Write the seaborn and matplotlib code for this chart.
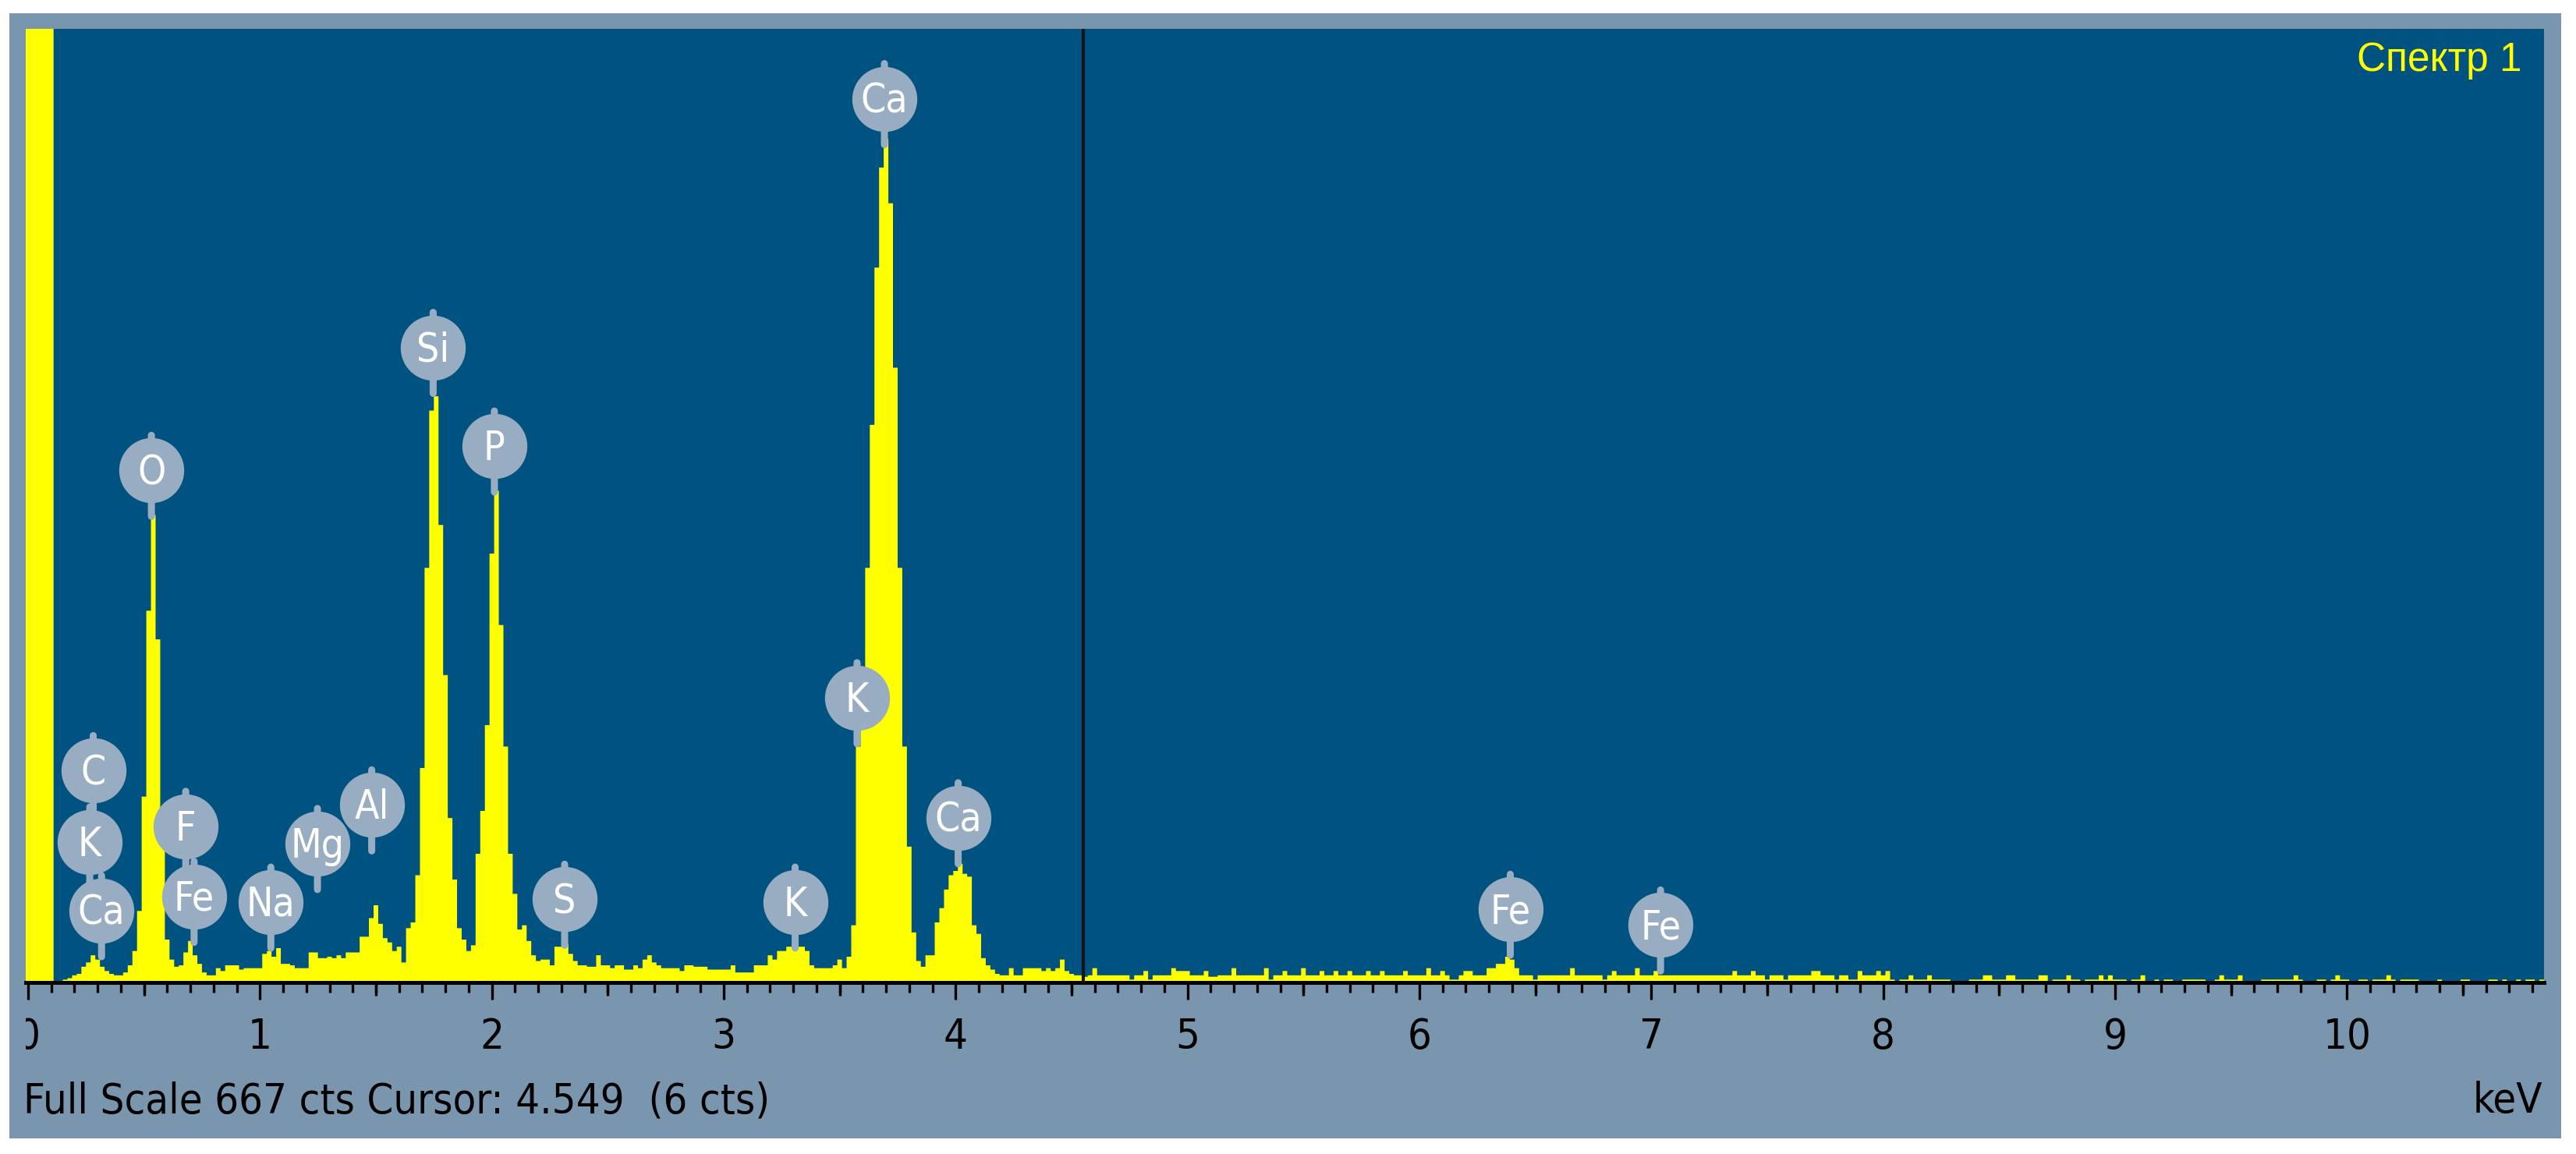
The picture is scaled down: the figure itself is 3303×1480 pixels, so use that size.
import numpy as np
import pandas as pd
import matplotlib
matplotlib.use("Agg")
import matplotlib.pyplot as plt
import seaborn as sns
from matplotlib import font_manager
from matplotlib.patches import Rectangle
from matplotlib.transforms import offset_copy, Bbox, TransformedBbox

# EDS spectrum, counts per 0.02 keV channel (channel centres 0.00 ... 10.84 keV)
channel_kev = 0.02
counts = [
    1500, 1500, 1500, 1500, 1500,   # 0.0
    1500, 1, 1, 2, 3,               # 0.1
    5, 6, 11, 14, 19,               # 0.2
    16, 11, 8, 6, 5,                # 0.3
    5, 7, 12, 22, 50,               # 0.4
    130, 260, 327, 240, 110,        # 0.5
    30, 16, 11, 12, 21,             # 0.6
    29, 19, 13, 7, 5,               # 0.7
    5, 10, 8, 12, 12,               # 0.8
    12, 9, 10, 10, 10,              # 0.9
    10, 20, 22, 18, 24,             # 1.0
    13, 13, 12, 10, 10,             # 1.1
    10, 21, 21, 17, 17,             # 1.2
    18, 17, 19, 17, 21,             # 1.3
    21, 21, 32, 32, 45,             # 1.4
    54, 41, 31, 28, 22,             # 1.5
    25, 14, 38, 42, 75,             # 1.6
    150, 290, 400, 410, 320,        # 1.7
    215, 115, 72, 38, 30,           # 1.8
    22, 26, 90, 120, 180,           # 1.9
    300, 344, 250, 165, 90,         # 2.0
    62, 37, 40, 29, 19,             # 2.1
    15, 16, 16, 12, 25,             # 2.2
    25, 27, 20, 15, 12,             # 2.3
    12, 11, 11, 19, 12,             # 2.4
    12, 10, 12, 12, 9,              # 2.5
    9, 12, 10, 16, 19,              # 2.6
    14, 12, 10, 10, 10,             # 2.7
    10, 8, 12, 12, 11,              # 2.8
    11, 11, 9, 9, 9,                # 2.9
    9, 9, 12, 7, 7,                 # 3.0
    7, 7, 12, 12, 12,               # 3.1
    19, 16, 22, 22, 25,             # 3.2
    25, 25, 25, 22, 12,             # 3.3
    10, 10, 10, 10, 12,             # 3.4
    16, 10, 18, 40, 165,            # 3.5
    210, 290, 390, 500, 570,        # 3.6
    590, 545, 430, 290, 165,        # 3.7
    95, 35, 15, 11, 19,             # 3.8
    19, 42, 52, 65, 75,             # 3.9
    78, 83, 76, 74, 40,             # 4.0
    34, 17, 12, 9, 6,               # 4.1
    5, 5, 10, 5, 5,                 # 4.2
    10, 10, 10, 10, 8,              # 4.3
    10, 8, 10, 16, 8,               # 4.4
    6, 5, 5, 4, 5,                  # 4.5
    10, 5, 5, 5, 5,                 # 4.6
    5, 5, 5, 2, 5,                  # 4.7
    5, 8, 2, 5, 5,                  # 4.8
    5, 5, 10, 8, 8,                 # 4.9
    8, 5, 5, 5, 8,                  # 5.0
    4, 4, 5, 5, 5,                  # 5.1
    10, 5, 5, 5, 5,                 # 5.2
    5, 5, 10, 2, 5,                 # 5.3
    5, 8, 5, 5, 5,                  # 5.4
    10, 5, 5, 5, 8,                 # 5.5
    5, 5, 8, 5, 5,                  # 5.6
    8, 5, 5, 5, 8,                  # 5.7
    5, 5, 8, 5, 5,                  # 5.8
    5, 5, 8, 5, 5,                  # 5.9
    5, 5, 10, 5, 5,                 # 6.0
    8, 5, 2, 2, 5,                  # 6.1
    8, 8, 5, 5, 5,                  # 6.2
    10, 10, 13, 13, 18,             # 6.3
    16, 10, 5, 5, 5,                # 6.4
    2, 5, 5, 5, 5,                  # 6.5
    5, 5, 5, 10, 5,                 # 6.6
    5, 5, 5, 5, 5,                  # 6.7
    2, 5, 8, 5, 5,                  # 6.8
    5, 5, 10, 5, 5,                 # 6.9
    5, 8, 5, 5, 5,                  # 7.0
    5, 5, 5, 5, 5,                  # 7.1
    5, 5, 5, 5, 5,                  # 7.2
    5, 5, 5, 8, 5,                  # 7.3
    5, 5, 8, 5, 5,                  # 7.4
    2, 5, 5, 5, 2,                  # 7.5
    5, 5, 5, 5, 5,                  # 7.6
    8, 8, 5, 5, 5,                  # 7.7
    2, 5, 5, 2, 2,                  # 7.8
    8, 5, 5, 5, 8,                  # 7.9
    5, 8, 2, 0, 2,                  # 8.0
    2, 5, 2, 2, 2,                  # 8.1
    5, 2, 2, 2, 2,                  # 8.2
    0, 0, 0, 0, 2,                  # 8.3
    2, 2, 5, 5, 2,                  # 8.4
    2, 2, 5, 5, 2,                  # 8.5
    2, 2, 2, 2, 5,                  # 8.6
    5, 0, 2, 2, 2,                  # 8.7
    5, 2, 2, 0, 2,                  # 8.8
    2, 2, 5, 2, 5,                  # 8.9
    2, 2, 2, 0, 2,                  # 9.0
    2, 5, 0, 0, 2,                  # 9.1
    0, 2, 2, 0, 0,                  # 9.2
    2, 2, 2, 2, 2,                  # 9.3
    0, 0, 2, 5, 2,                  # 9.4
    2, 2, 5, 0, 0,                  # 9.5
    0, 0, 2, 2, 2,                  # 9.6
    2, 2, 2, 2, 5,                  # 9.7
    2, 0, 0, 0, 2,                  # 9.8
    2, 0, 2, 5, 2,                  # 9.9
    2, 0, 0, 2, 2,                  # 10.0
    0, 2, 2, 2, 5,                  # 10.1
    2, 0, 2, 2, 2,                  # 10.2
    2, 0, 0, 0, 0,                  # 10.3
    2, 0, 0, 0, 0,                  # 10.4
    2, 2, 0, 0, 0,                  # 10.5
    0, 2, 2, 0, 2,                  # 10.6
    0, 0, 2, 0, 2,                  # 10.7
    2, 0, 2,                        # 10.8
]

# peak labels: element, energy (keV), counts where the stem ends
label_names = ["C", "K", "Ca", "O", "F", "Fe", "Na", "Mg", "Al",
               "Si", "P", "S", "K", "K", "Ca", "Ca", "Fe", "Fe"]
label_kev = [0.281, 0.266, 0.317, 0.532, 0.680, 0.716, 1.047, 1.248, 1.482,
             1.747, 2.011, 2.314, 3.308, 3.575, 3.693, 4.011, 6.392, 7.040]
label_tip = [116, 66, 18, 326, 77, 28, 24, 65, 92,
             412, 343, 26, 24, 167, 586, 83, 19, 8]

major_ticks = [0, 1, 2, 3, 4, 5, 6, 7, 8, 9, 10]
full_scale = 667
cursor_kev = 4.549
cursor_cts = 6
title = "Спектр 1"

spec = pd.DataFrame({"keV": np.arange(len(counts)) * channel_kev, "cts": counts})
kev_lo = -channel_kev / 2
kev_hi = (len(counts) - 0.5) * channel_kev

sns.set_theme(style="ticks")
# narrow face like the instrument software: condensed DejaVu if present
condensed = [f for f in font_manager.fontManager.ttflist
             if f.name == "DejaVu Sans" and f.stretch == "condensed"
             and f.style == "normal"]
if condensed:
    plt.rcParams["font.family"] = ["DejaVu Sans"]
    plt.rcParams["font.stretch"] = "condensed"
    main_size = 39
else:
    plt.rcParams["font.family"] = ["Liberation Sans", "DejaVu Sans"]
    main_size = 38

W, H = 3303, 1480
fig = plt.figure(figsize=(W / 100, H / 100), dpi=100, facecolor="white")
fig.add_artist(Rectangle((12 / W, 1 - 1460 / H), (3284 - 12) / W, (1460 - 17) / H,
                         transform=fig.transFigure, facecolor="#7a96ae",
                         edgecolor="none", zorder=-10))

ax = fig.add_axes([33 / W, 1 - 1260 / H, (3262 - 33) / W, (1260 - 37) / H])
ax.set_facecolor("#005280")

sns.histplot(data=spec, x="keV", weights="cts", bins=len(counts),
             binrange=(kev_lo, kev_hi), element="step", fill=True,
             color="#ffff00", alpha=1, linewidth=0, ax=ax, zorder=2)

ax.set_xlim(kev_lo, kev_hi)
ax.set_ylim(0, full_scale)
ax.set_xlabel("")
ax.set_ylabel("")

ax.axvline(cursor_kev, color="#151515", lw=3, zorder=3)

# axis styling
sns.despine(ax=ax, left=True)
ax.spines["bottom"].set_linewidth(3.6)
ax.spines["bottom"].set_color("black")
ax.set_xticks(major_ticks, labels=[str(t) for t in major_ticks])
ax.set_xticks(np.arange(0, 10.85, 0.1), minor=True)
ax.tick_params(axis="x", which="major", length=15.5, width=2.4, color="black",
               direction="out", pad=16, labelsize=main_size, labelcolor="black")
ax.tick_params(axis="x", which="minor", length=9, width=2.4, color="black",
               direction="out")
ax.tick_params(axis="y", left=False, labelleft=False)
sec = ax.secondary_xaxis("bottom")
sec.set_xticks(np.arange(0.5, 10.6, 1.0))
sec.tick_params(axis="x", length=12.5, width=2.4, color="black", labelbottom=False)
sec.spines["bottom"].set_visible(False)

clip = TransformedBbox(Bbox([[33 / W, 0], [1, 1]]), fig.transFigure)
for lbl in ax.get_xticklabels():
    lbl.set_clip_box(clip)
    lbl.set_clip_on(True)

# element markers
bubble = "#98adc2"
lift = offset_copy(ax.transData, fig=fig, x=0, y=59, units="dots")
text_lift = offset_copy(ax.transData, fig=fig, x=0, y=41, units="dots")
for name, x, tip in zip(label_names, label_kev, label_tip):
    ax.annotate("", xy=(x, tip), xycoords="data", xytext=(0, 104 * 0.72),
                textcoords="offset points",
                arrowprops=dict(arrowstyle="-", lw=6.5, color=bubble,
                                shrinkA=0, shrinkB=0), zorder=4)
    ax.plot([x], [tip], marker="o", ms=60, mfc=bubble, mec="none",
            transform=lift, zorder=5, clip_on=False)
    ax.text(x, tip, name, transform=text_lift, ha="center", va="baseline",
            color="white", fontsize=main_size - 2, zorder=6)

fig.text(30 / W, 1 - 1427 / H,
         f"Full Scale {full_scale} cts Cursor: {cursor_kev:.3f}  ({cursor_cts} cts)",
         ha="left", va="baseline", fontsize=main_size, color="black")
fig.text(3260 / W, 1 - 1427 / H, "keV", ha="right", va="baseline",
         fontsize=main_size, color="black")
fig.text(3234 / W, 1 - 91 / H, title, ha="right", va="baseline", fontsize=37,
         color="#ffff00", family=["Liberation Sans", "DejaVu Sans"],
         stretch="normal")

fig.savefig("out.png", dpi=100, facecolor="white")
